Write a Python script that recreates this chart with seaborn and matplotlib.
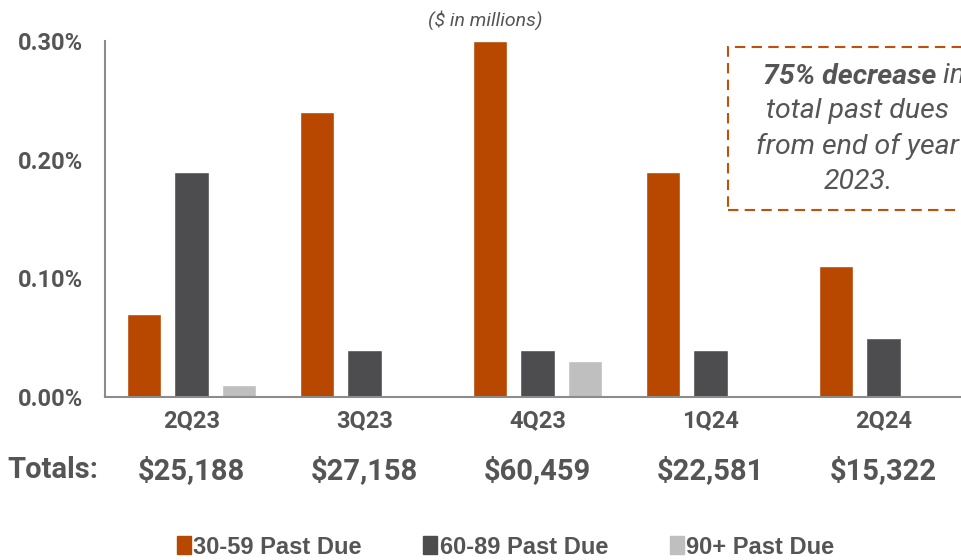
import numpy as np
import matplotlib.pyplot as plt
import matplotlib.patches as mpatches
import pandas as pd
import seaborn as sns

# Past due ratios (% of loans)
quarters = ["2Q23", "3Q23", "4Q23", "1Q24", "2Q24"]
past_due_30_59 = [0.07, 0.24, 0.30, 0.19, 0.11]
past_due_60_89 = [0.19, 0.04, 0.04, 0.04, 0.05]
past_due_90_plus = [0.01, 0.00, 0.03, 0.00, 0.00]
totals = ["$25,188", "$27,158", "$60,459", "$22,581", "$15,322"]

series_names = ["30-59 Past Due", "60-89 Past Due", "90+ Past Due"]
colors = ["#B84700", "#4D4D4F", "#BFBFBF"]
TEXT = "#555555"
AXIS = "#8C8C8C"

df = pd.DataFrame({
    "quarter": quarters * 3,
    "bucket": np.repeat(series_names, len(quarters)),
    "value": past_due_30_59 + past_due_60_89 + past_due_90_plus,
})

sns.set_style("white")
plt.rcParams["font.family"] = ["Roboto", "DejaVu Sans"]

W, H = 961, 560
fig = plt.figure(figsize=(W / 100, H / 100), dpi=100)
ax = fig.add_axes([105 / W, 1 - 397 / H, 865 / W, (397 - 41) / H])

sns.barplot(data=df, x="quarter", y="value", hue="bucket", order=quarters,
            hue_order=series_names, palette=colors, width=0.82, gap=0.27,
            saturation=1, ax=ax, legend=False)

ax.set_xlim(-0.5, 4.5)
ax.set_ylim(0, 0.30)
ax.set_yticks([0, 0.1, 0.2, 0.3])
ax.set_yticklabels(["0.00%", "0.10%", "0.20%", "0.30%"])
ax.set_xlabel("")
ax.set_ylabel("")

for side in ["top", "right"]:
    ax.spines[side].set_visible(False)
for side in ["left", "bottom"]:
    ax.spines[side].set_color(AXIS)
    ax.spines[side].set_linewidth(1.5)

# small ticks between the quarter groups
ax.set_xticks(np.arange(-0.5, 5, 1), minor=True)
ax.tick_params(axis="x", which="major", length=0, pad=9, labelsize=17,
               labelcolor=TEXT)
ax.tick_params(axis="x", which="minor", length=6, width=1.5, color=AXIS)
ax.tick_params(axis="y", length=6, width=1.5, color=AXIS, pad=10,
               labelsize=17, labelcolor=TEXT)
for lab in ax.get_xticklabels() + ax.get_yticklabels():
    lab.set_fontweight("bold")

# totals row under the quarter labels
fig.text(7 / W, 1 - 470 / H, "Totals:", fontsize=21, fontweight="bold",
         color=TEXT, va="center", ha="left")
for i, t in enumerate(totals):
    ax.text(i, -0.062, t, fontsize=21, fontweight="bold", color=TEXT,
            ha="center", va="center", clip_on=False)

fig.text(485 / W, 1 - 20 / H, "($ in millions)", fontsize=14, style="italic",
         color=TEXT, ha="center", va="center")

# dashed callout box
box = mpatches.Rectangle((728 / W, 1 - 210 / H), 250 / W, 163 / H,
                         transform=fig.transFigure, fill=False,
                         edgecolor="#C0500A", linewidth=1.5,
                         linestyle=(0, (5, 3)))
fig.add_artist(box)
fig.text(936 / W, 1 - 76 / H, "75% decrease", fontsize=20.5, style="italic",
         fontweight="bold", color=TEXT, ha="right", va="center")
fig.text(936 / W, 1 - 76 / H, " in", fontsize=20.5, style="italic",
         color=TEXT, ha="left", va="center")
for k, line in enumerate(["total past dues", "from end of year", "2023."]):
    fig.text(858 / W, 1 - (111 + 35.5 * k) / H, line, fontsize=20.5,
             style="italic", color=TEXT, ha="center", va="center")

handles = [mpatches.Patch(color=c, label=n) for c, n in zip(colors, series_names)]
leg = fig.legend(handles=handles, loc="center", bbox_to_anchor=(0.526, 1 - 547 / H),
                 ncol=3, frameon=False, handlelength=0.6, handleheight=0.8,
                 handletextpad=0.1, columnspacing=2.6,
                 prop={"family": "Liberation Sans", "weight": "bold", "size": 17})
for t in leg.get_texts():
    t.set_color(TEXT)

fig.savefig("out.png", dpi=100)
